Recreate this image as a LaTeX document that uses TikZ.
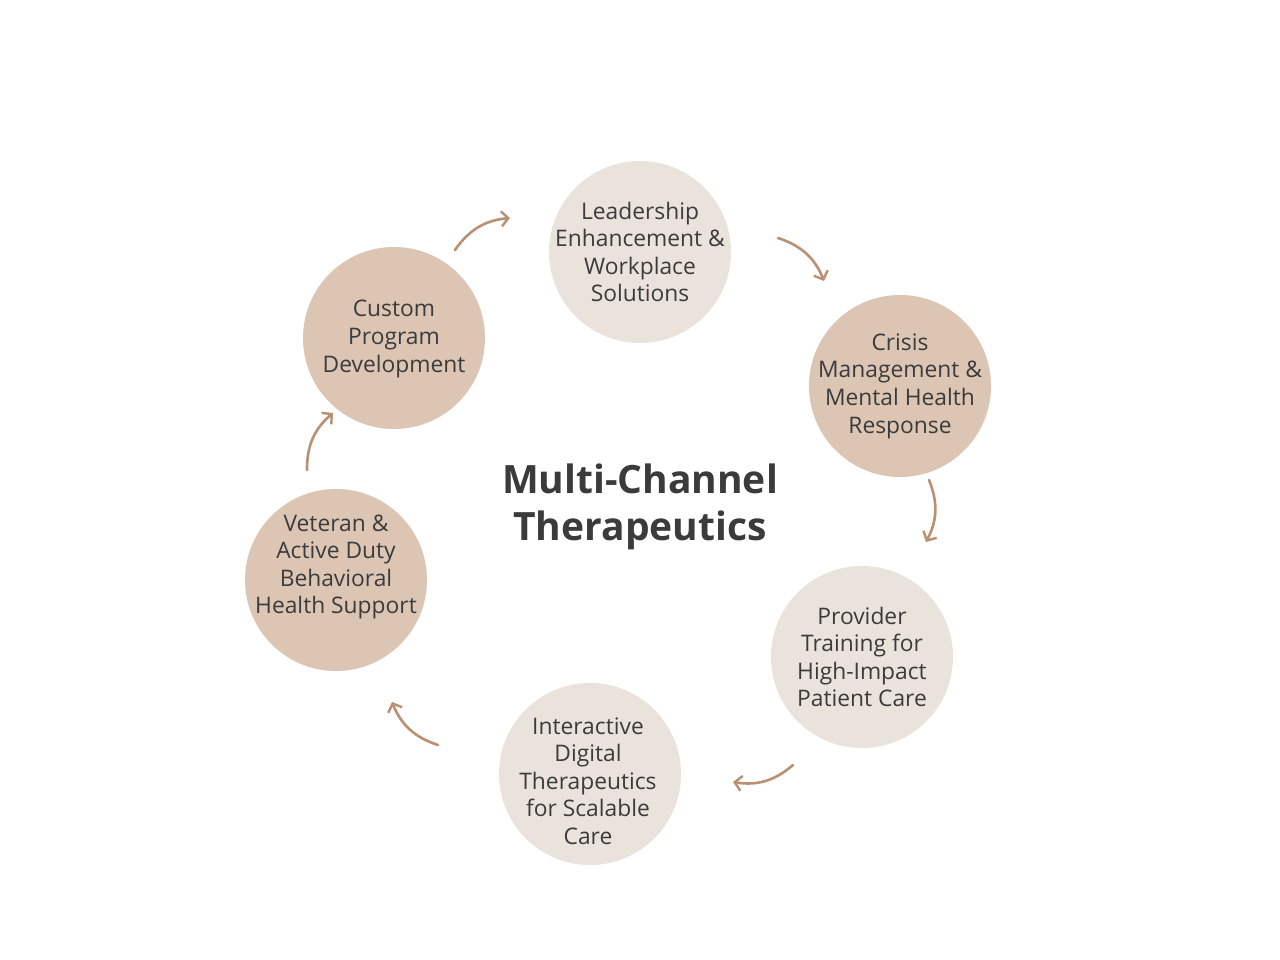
\documentclass[tikz,border=0pt]{standalone}
\usepackage{fontspec}
\setmainfont{Open Sans}
\usetikzlibrary{arrows.meta}
\definecolor{tan}{HTML}{DCC5B3}
\definecolor{light}{HTML}{EAE3DC}
\definecolor{arr}{HTML}{BA9073}
\definecolor{txt}{HTML}{3B3B3B}
\begin{document}
\begin{tikzpicture}[x=1pt,y=-1pt,
  bubble/.style={circle,minimum size=182pt,inner sep=0pt,draw=none},
  label/.style={align=center,text=txt,font=\fontsize{22.8}{27.6}\selectfont},
  cyc/.style={draw=arr,line width=2.6pt,line cap=round,-{Straight Barb[length=7pt,width=15pt,line width=2.4pt]},bend left=25}]
\fill[white] (0,0) rectangle (1280,960);
\useasboundingbox (0,0) rectangle (1280,960);
\node[bubble,fill=light] (lead) at (640,252) {};
\node[bubble,fill=tan] (crisis) at (900,386) {};
\node[bubble,fill=light] (prov) at (862,657) {};
\node[bubble,fill=light] (inter) at (590,774) {};
\node[bubble,fill=tan] (vet) at (336,580) {};
\node[bubble,fill=tan] (cust) at (394,338) {};
\node[label] (tlead) at (640,252) {Leadership\\Enhancement \&\\Workplace\\Solutions};
\node[label] (tcrisis) at (900,386) {Crisis\\Management \&\\Mental Health\\Response};
\node[label] (tprov) at (862,657) {Provider\\Training for\\High-Impact\\Patient Care};
\node[label] (tinter) at (588,781) {Interactive\\Digital\\Therapeutics\\for Scalable\\Care};
\node[label] (tvet) at (336,567) {Veteran \&\\Active Duty\\Behavioral\\Health Support};
\node[label] (tcust) at (394,339) {Custom\\Program\\Development};
\node[align=center,text=txt,font=\bfseries\fontsize{39}{47}\selectfont] (title) at (640,507) {Multi-Channel\\Therapeutics};
\coordinate (a1s) at (455,250); \coordinate (a1e) at (510,218);
\coordinate (a2s) at (778,238); \coordinate (a2e) at (824,281);
\coordinate (a3s) at (929,480); \coordinate (a3e) at (926,542);
\coordinate (a4s) at (793,765); \coordinate (a4e) at (733,782);
\coordinate (a5s) at (438,745); \coordinate (a5e) at (392,702);
\coordinate (a6s) at (307,470); \coordinate (a6e) at (333,413);
\draw[cyc] (a1s) to (a1e);
\draw[cyc] (a2s) to (a2e);
\draw[cyc] (a3s) to (a3e);
\draw[cyc] (a4s) to (a4e);
\draw[cyc] (a5s) to (a5e);
\draw[cyc] (a6s) to (a6e);
\end{tikzpicture}
\end{document}
